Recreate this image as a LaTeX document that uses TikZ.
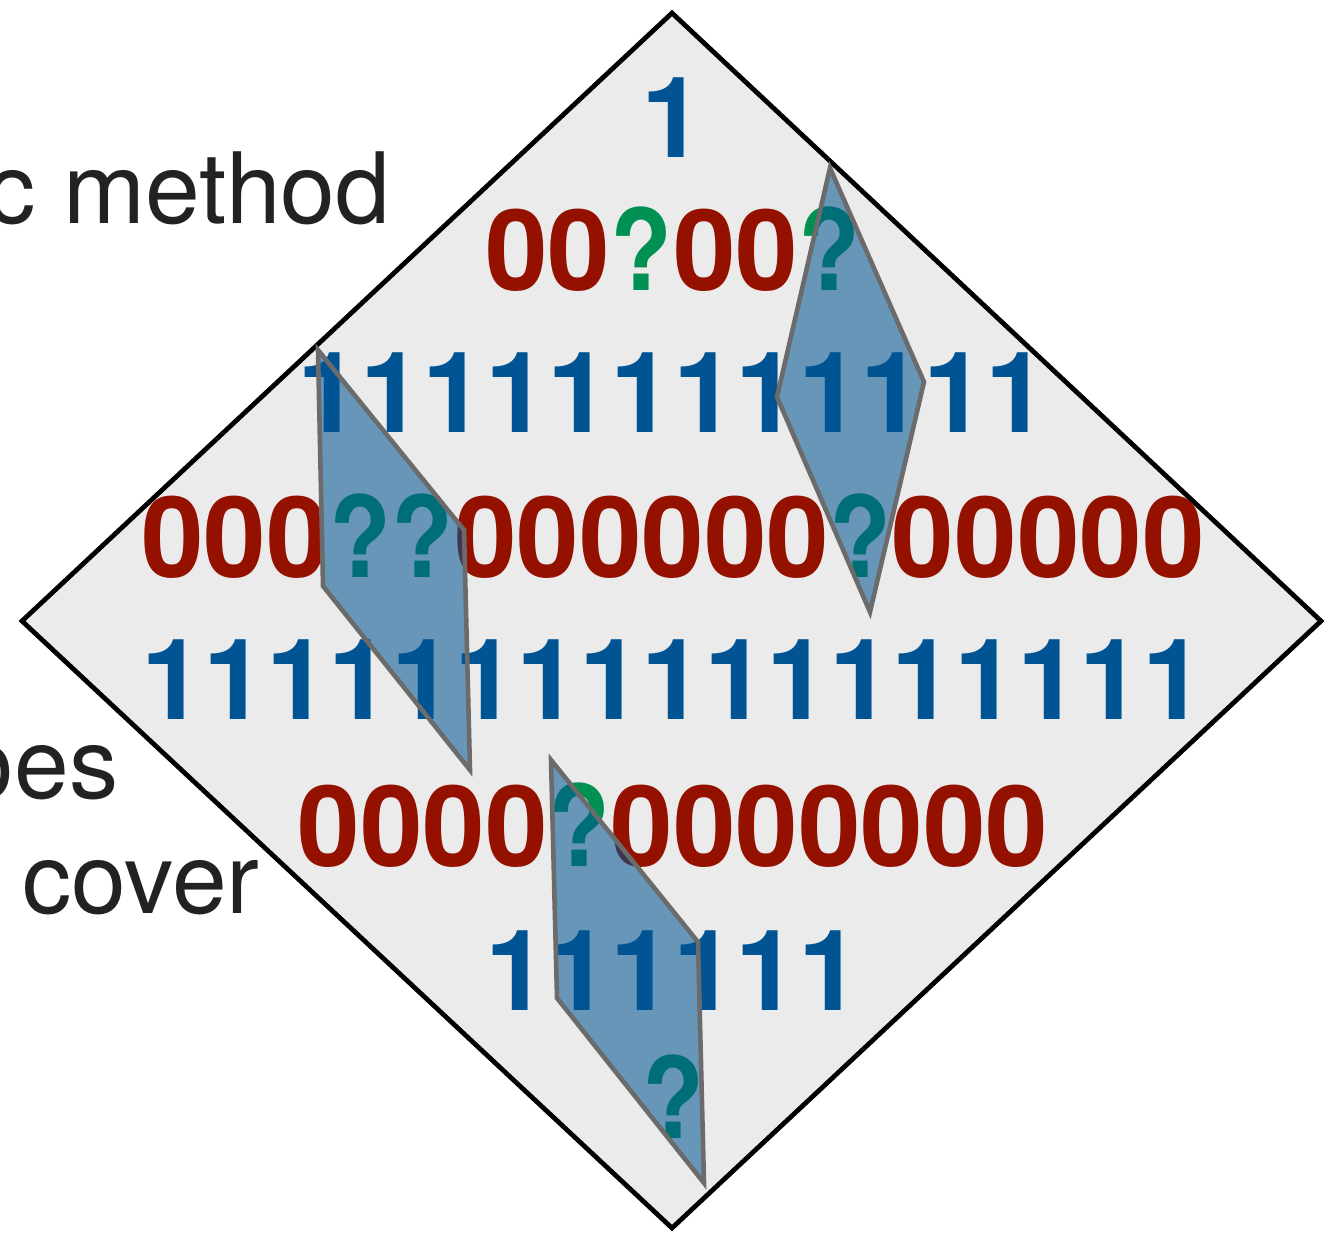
\documentclass[tikz,border=0pt]{standalone}
\usepackage{fontspec}
\usepackage{graphicx}
\setmainfont{TeX Gyre Heros}
\definecolor{cayenne}{HTML}{941100}
\definecolor{ocean}{HTML}{005493}
\definecolor{moss}{HTML}{009051}
\definecolor{panel}{HTML}{EBEBEB}
\definecolor{edgegray}{HTML}{6B6B6B}
\definecolor{ink}{HTML}{222222}
\newcommand{\zr}[1]{\textcolor{cayenne}{#1}}
\newcommand{\on}[1]{\textcolor{ocean}{#1}}
% question marks set on the same pitch as the digits
\newcommand{\qm}{\makebox[0.556em]{\scalebox{0.9}[1]{\textcolor{moss}{?}}}}
\tikzset{
  row/.style={anchor=base, inner sep=0pt, font=\fontsize{32}{32}\selectfont\bfseries},
  side/.style={anchor=base east, inner sep=0pt, text=ink, font=\fontsize{28}{28}\selectfont},
  sidel/.style={anchor=base west, inner sep=0pt, text=ink, font=\fontsize{28}{28}\selectfont},
  frame/.style={draw=black, fill=panel, line width=1.35pt, line join=miter},
  patch/.style={draw=edgegray, line width=1.3pt, fill=ocean, fill opacity=0.56, line join=miter}
}
\begin{document}
\begin{tikzpicture}[x=0.01cm, y=-0.01cm]
\useasboundingbox (0,0) rectangle (1339,1232);
\clip (0,0) rectangle (1339,1232);

% side captions, partly running off the left edge
\node[side]  (capA) at (391,223) {c method};
\node[side]  (capB) at (119,798) {oes};
\node[sidel] (capC) at (22,913)  {cover};

% the diamond
\coordinate (dT) at (672,13);
\coordinate (dR) at (1321,621);
\coordinate (dB) at (672,1228);
\coordinate (dL) at (22,621);
\path[frame] (dT) -- (dR) -- (dB) -- (dL) -- cycle;

% rows of bits
\node[row] (r1) at (673,157)  {\on{1}};
\node[row] (r2) at (673,290)  {\zr{00}\qm\zr{00}\qm};
\node[row] (r3) at (673,432)  {\on{111111111111}};
\node[row] (r4) at (673,577)  {\zr{000}\qm\qm\zr{000000}\qm\zr{00000}};
\node[row] (r5) at (673,719)  {\on{11111111111111111}};
\node[row] (r6) at (673,866)  {\zr{0000}\qm\zr{0000000}};
\node[row] (r7) at (673,1010) {\on{111111}};
\node[row] (r8) at (673,1138) {\qm};

% translucent covering patches
\coordinate (a1) at (830,168);
\coordinate (a2) at (924,382);
\coordinate (a3) at (870,612);
\coordinate (a4) at (777,397);
\path[patch] (a1) -- (a2) -- (a3) -- (a4) -- cycle;

\coordinate (b1) at (318,350);
\coordinate (b2) at (464,530);
\coordinate (b3) at (470,770);
\coordinate (b4) at (323,586);
\path[patch] (b1) -- (b2) -- (b3) -- (b4) -- cycle;

\coordinate (c1) at (551,760);
\coordinate (c2) at (698,942);
\coordinate (c3) at (704,1183);
\coordinate (c4) at (557,998);
\path[patch] (c1) -- (c2) -- (c3) -- (c4) -- cycle;
\end{tikzpicture}
\end{document}
